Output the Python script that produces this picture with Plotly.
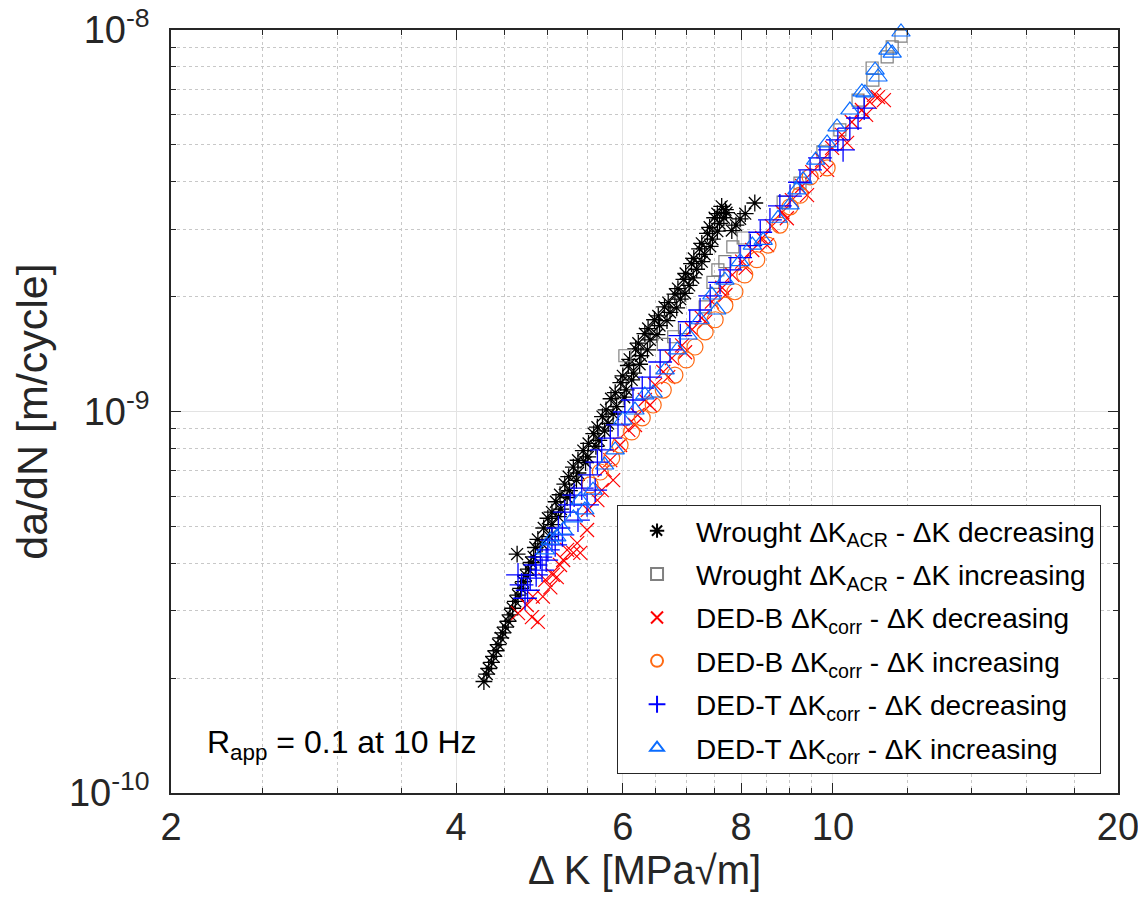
import plotly.graph_objects as go

# Wrought, delta-K_ACR, delta-K decreasing (black asterisks)
dk_wd = [4.28, 4.31, 4.33, 4.36, 4.38, 4.41, 4.43, 4.46, 4.48, 4.51, 4.54, 4.56, 4.59, 4.62,
         4.65, 4.68, 4.71, 4.74, 4.77, 4.80, 4.83, 4.64, 4.85, 4.93, 4.88,
         4.95, 5.05, 5.00, 5.05, 5.16, 5.10, 5.15, 5.27, 5.21, 5.26, 5.38, 5.32,
         5.38, 5.51, 5.45, 5.52, 5.66, 5.59, 5.64, 5.79, 5.71, 5.76, 5.91, 5.83,
         5.89, 6.05, 5.97, 6.00, 6.16, 6.08, 6.10, 6.27, 6.19, 6.23, 6.41, 6.33,
         6.38, 6.56, 6.48, 6.54, 6.73, 6.64, 6.70, 6.90, 6.81, 6.86, 7.05, 6.96,
         6.99, 7.18, 7.09, 7.13, 7.32, 7.23, 7.27, 7.46, 7.37, 7.41, 7.59, 7.50,
         7.55, 7.70, 7.63, 7.82, 7.90, 7.98, 8.08, 8.27,
         5.02, 5.13, 5.24, 5.36, 5.48, 5.62, 5.74, 5.86, 6.02, 6.13, 6.25, 6.37, 6.52,
         6.68, 6.84, 6.98, 7.12, 7.27, 7.42, 7.55, 7.67, 7.72]
dadn_wd = [1.96e-10, 2.05e-10, 2.12e-10, 2.20e-10, 2.28e-10, 2.36e-10, 2.45e-10, 2.55e-10,
           2.63e-10, 2.72e-10, 2.82e-10, 2.93e-10, 3.05e-10, 3.18e-10, 3.30e-10, 3.44e-10,
           3.58e-10, 3.72e-10, 3.86e-10, 4.02e-10, 4.16e-10, 4.23e-10, 4.40e-10, 4.50e-10, 4.62e-10,
           4.95e-10, 5.05e-10, 5.25e-10, 5.45e-10, 5.55e-10, 5.80e-10, 6.05e-10, 6.20e-10, 6.45e-10,
           6.75e-10, 6.90e-10, 7.15e-10, 7.45e-10, 7.60e-10, 7.90e-10, 8.25e-10, 8.40e-10, 8.75e-10,
           9.10e-10, 9.30e-10, 9.70e-10, 1.01e-9, 1.03e-9, 1.08e-9, 1.12e-9, 1.14e-9, 1.19e-9,
           1.24e-9, 1.26e-9, 1.32e-9, 1.37e-9, 1.40e-9, 1.46e-9, 1.51e-9, 1.54e-9, 1.60e-9,
           1.65e-9, 1.68e-9, 1.74e-9, 1.78e-9, 1.82e-9, 1.88e-9, 1.93e-9, 1.97e-9, 2.03e-9,
           2.10e-9, 2.14e-9, 2.22e-9, 2.30e-9, 2.36e-9, 2.44e-9, 2.52e-9, 2.58e-9, 2.67e-9,
           2.76e-9, 2.83e-9, 2.93e-9, 3.04e-9, 3.11e-9, 3.22e-9, 3.30e-9, 3.38e-9, 3.45e-9,
           2.98e-9, 3.08e-9, 3.20e-9, 3.30e-9, 3.52e-9,
           4.70e-10, 5.30e-10, 5.95e-10, 6.60e-10, 7.35e-10, 8.10e-10, 8.90e-10, 9.85e-10,
           1.09e-9, 1.21e-9, 1.33e-9, 1.45e-9, 1.59e-9, 1.73e-9, 1.87e-9, 2.04e-9, 2.24e-9,
           2.47e-9, 2.71e-9, 2.97e-9, 3.22e-9, 3.32e-9]

# Wrought, delta-K_ACR, delta-K increasing (grey squares)
dk_wi = [6.03, 6.62, 6.79, 6.97, 7.33, 7.47, 7.56, 7.69, 7.84, 8.04, 8.86, 9.23, 9.76,
         10.17, 10.63, 11.02, 11.00, 11.41, 11.55, 11.80]
dadn_wi = [1.40e-9, 1.50e-9, 1.57e-9, 1.66e-9, 1.88e-9, 2.18e-9, 2.35e-9, 2.47e-9, 2.70e-9,
           2.85e-9, 3.54e-9, 3.97e-9, 4.79e-9, 5.47e-9, 6.55e-9, 7.39e-9, 7.95e-9, 8.50e-9,
           9.03e-9, 9.64e-9]

# DED-B, delta-K_corr, delta-K decreasing (red x)
dk_bd = [4.65, 4.81, 4.88, 4.75, 4.82, 4.94, 5.03, 4.97, 5.11, 5.06, 5.15, 5.19, 5.24, 5.32,
         5.41, 5.37, 5.50, 5.51, 5.64, 5.70, 5.86, 5.74, 5.82, 5.96, 6.08, 6.18, 6.22, 6.33,
         6.41, 6.49, 6.62, 6.70, 6.76, 6.93, 6.98, 7.10, 7.27, 7.33, 7.45, 7.64, 7.70, 7.83,
         8.02, 8.09, 8.22, 8.42, 8.52, 8.62, 8.84, 8.94, 9.05, 9.28, 9.39, 9.51, 9.74, 9.86,
         9.98, 10.22, 10.35, 10.47, 10.73, 10.84, 10.94, 11.05, 11.16, 11.32]
dadn_bd = [2.96e-10, 2.89e-10, 2.81e-10, 3.11e-10, 3.27e-10, 3.27e-10, 3.46e-10, 3.62e-10,
           3.68e-10, 3.73e-10, 3.96e-10, 4.08e-10, 4.34e-10, 4.26e-10, 4.26e-10, 4.52e-10,
           4.89e-10, 5.52e-10, 5.86e-10, 6.22e-10, 6.61e-10, 7.02e-10, 7.46e-10, 8.17e-10,
           8.95e-10, 9.22e-10, 9.79e-10, 1.072e-9, 1.04e-9, 1.174e-9, 1.27e-9, 1.23e-9,
           1.38e-9, 1.49e-9, 1.43e-9, 1.64e-9, 1.76e-9, 1.72e-9, 1.94e-9, 2.11e-9, 2.02e-9,
           2.28e-9, 2.47e-9, 2.38e-9, 2.65e-9, 2.85e-9, 2.73e-9, 3.06e-9, 3.33e-9, 3.21e-9,
           3.58e-9, 3.90e-9, 3.69e-9, 4.24e-9, 4.56e-9, 4.30e-9, 4.91e-9, 5.31e-9, 5.06e-9,
           5.74e-9, 6.17e-9, 5.99e-9, 6.48e-9, 6.76e-9, 6.67e-9, 6.55e-9]

# DED-B, delta-K_corr, delta-K increasing (orange circles)
dk_bi = [5.54, 5.68, 5.84, 5.96, 6.13, 6.29, 6.46, 6.62, 6.81, 7.00, 7.15, 7.33, 7.51, 7.69,
         7.88, 8.07, 8.31, 8.54, 8.79, 9.01, 9.23, 9.46, 9.86]
dadn_bi = [6.42e-10, 6.94e-10, 7.55e-10, 8.17e-10, 8.84e-10, 9.62e-10, 1.04e-9, 1.138e-9,
           1.246e-9, 1.365e-9, 1.476e-9, 1.617e-9, 1.74e-9, 1.90e-9, 2.06e-9, 2.28e-9,
           2.50e-9, 2.73e-9, 3.08e-9, 3.44e-9, 3.69e-9, 4.12e-9, 4.35e-9]

# DED-T, delta-K_corr, delta-K decreasing (blue plus)
dk_td = [4.65, 4.73, 4.69, 4.79, 4.85, 4.93, 4.91, 5.00, 5.05, 5.13, 5.21, 5.28, 5.33, 5.43,
         5.54, 5.64, 5.70, 5.82, 5.93, 6.03, 6.15, 6.29, 6.41, 6.57, 6.73, 6.90, 7.06, 7.24,
         7.42, 7.60, 7.79, 7.98, 8.18, 8.38, 8.58, 8.79, 9.01, 9.23, 9.46, 9.69, 9.93, 10.25,
         10.12, 10.42, 10.63, 10.79, 4.76, 4.86, 4.98, 5.09, 5.18, 5.38, 5.50, 5.61]
dadn_td = [3.73e-10, 3.24e-10, 3.51e-10, 3.66e-10, 3.96e-10, 3.84e-10, 4.15e-10, 4.34e-10,
           4.60e-10, 4.95e-10, 5.45e-10, 5.69e-10, 6.04e-10, 6.30e-10, 6.82e-10, 7.37e-10,
           7.93e-10, 8.52e-10, 9.22e-10, 9.97e-10, 1.072e-9, 1.152e-9, 1.23e-9, 1.348e-9,
           1.45e-9, 1.58e-9, 1.72e-9, 1.845e-9, 2.01e-9, 2.18e-9, 2.35e-9, 2.53e-9, 2.72e-9,
           2.95e-9, 3.18e-9, 3.46e-9, 3.67e-9, 3.99e-9, 4.30e-9, 4.62e-9, 4.85e-9, 4.85e-9,
           5.15e-9, 5.53e-9, 5.88e-9, 6.24e-9, 3.40e-10, 3.73e-10, 4.08e-10, 4.47e-10,
           4.75e-10, 5.19e-10, 5.69e-10, 6.22e-10]

# DED-T, delta-K_corr, delta-K increasing (light blue triangles)
dk_ti = [4.97, 5.03, 5.11, 5.19, 5.32, 5.41, 5.47, 5.58, 5.74, 5.89, 6.00, 6.18, 6.33, 6.46,
         6.65, 6.85, 7.03, 7.24, 7.54, 7.45, 7.69, 7.98, 8.22, 8.44, 8.75, 9.01, 9.16, 9.30,
         9.59, 9.86, 10.10, 10.42, 10.73, 10.81, 11.08, 11.16, 11.43, 11.55, 11.80]
dadn_ti = [4.34e-10, 4.60e-10, 4.69e-10, 4.89e-10, 5.26e-10, 5.86e-10, 5.52e-10, 6.22e-10,
           7.24e-10, 7.93e-10, 9.50e-10, 1.009e-9, 1.105e-9, 1.118e-9, 1.285e-9, 1.45e-9,
           1.587e-9, 1.74e-9, 1.845e-9, 2.02e-9, 2.21e-9, 2.47e-9, 2.73e-9, 2.81e-9, 3.21e-9,
           3.48e-9, 3.81e-9, 4.05e-9, 4.56e-9, 5.06e-9, 5.57e-9, 6.17e-9, 6.88e-9, 6.84e-9,
           7.85e-9, 7.53e-9, 8.86e-9, 8.70e-9, 9.88e-9]

x_ticks = [2, 4, 6, 8, 10, 20]
x_minor = [2.5, 3, 3.5, 4.5, 5, 5.5, 6.5, 7, 7.5, 8.5, 9, 9.5, 12, 14, 16, 18]
y_ticks = [1e-10, 1e-9, 1e-8]
y_ticktext = ['10<sup>-10</sup>', '10<sup>-9</sup>', '10<sup>-8</sup>']
y_minor = [k * 1e-10 for k in range(2, 10)] + [k * 1e-9 for k in range(2, 10)]

series = [
    (dk_wd, dadn_wd, 'Wrought ΔK<sub>ACR</sub> - ΔK decreasing', 'asterisk-open', 'black', 14, 1.3),
    (dk_wi, dadn_wi, 'Wrought ΔK<sub>ACR</sub> - ΔK increasing', 'square-open', '#808080', 12, 1.2),
    (dk_bd, dadn_bd, 'DED-B ΔK<sub>corr</sub> - ΔK decreasing', 'x-thin-open', '#ff0000', 14, 1.2),
    (dk_bi, dadn_bi, 'DED-B ΔK<sub>corr</sub> - ΔK increasing', 'circle-open', '#ff6a13', 16, 1.2),
    (dk_td, dadn_td, 'DED-T ΔK<sub>corr</sub> - ΔK decreasing', 'cross-thin-open', '#0000ff', 17, 1.3),
    (dk_ti, dadn_ti, 'DED-T ΔK<sub>corr</sub> - ΔK increasing', 'triangle-up-open', '#0a6cff', 16, 1.2),
]

FONT = 'Liberation Sans, Arial, Helvetica, sans-serif'
AX = '#262626'

fig = go.Figure()
for i, (xs, ys, name, sym, col, size, lw) in enumerate(series):
    fig.add_trace(go.Scatter(
        x=xs, y=ys, mode='markers', name=name, legendgroup=str(i),
        cliponaxis=False,
        marker=dict(symbol=sym, size=size, color=col, line=dict(color=col, width=lw)),
    ))

fig.add_annotation(
    x=0.18, y=0.063, xref='paper', yref='paper', showarrow=False,
    text='R<sub>app</sub> = 0.1 at 10 Hz', font=dict(size=32, color='black', family=FONT),
    xanchor='center', yanchor='middle',
)
# x axis title, placed by hand to sit as close to the tick labels as in the original
fig.add_annotation(
    x=0.5, y=-0.101, xref='paper', yref='paper', showarrow=False,
    text='Δ K [MPa√m]', font=dict(size=40, color=AX, family=FONT),
    xanchor='center', yanchor='middle',
)

fig.update_xaxes(
    type='log', range=[0.30103, 1.30103],
    tickmode='array', tickvals=x_ticks, ticktext=[str(v) for v in x_ticks],
    tickfont=dict(size=38, color=AX, family=FONT),
    ticks='inside', ticklen=10, tickcolor=AX, tickwidth=1,
    showline=True, linecolor=AX, linewidth=1.5, mirror='allticks',
    showgrid=True, gridcolor='#e3e3e3', gridwidth=1,
    minor=dict(tickmode='array', tickvals=x_minor, ticks='inside', ticklen=5,
               tickcolor=AX, showgrid=True, gridcolor='#c8c8c8', griddash='dot'),
    ticklabelstandoff=0, ticklabeloverflow='allow', zeroline=False,
)
fig.update_yaxes(
    type='log', range=[-10, -8],
    tickmode='array', tickvals=y_ticks, ticktext=y_ticktext,
    tickfont=dict(size=38, color=AX, family=FONT),
    ticks='inside', ticklen=10, tickcolor=AX, tickwidth=1,
    showline=True, linecolor=AX, linewidth=1.5, mirror='allticks',
    showgrid=True, gridcolor='#e3e3e3', gridwidth=1,
    minor=dict(tickmode='array', tickvals=y_minor, ticks='inside', ticklen=5,
               tickcolor=AX, showgrid=True, gridcolor='#c8c8c8', griddash='dot'),
    title=dict(text='da/dN [m/cycle]', font=dict(size=43, color=AX, family=FONT), standoff=19),
    ticklabelstandoff=12, ticklabeloverflow='allow', zeroline=False,
)

# the page has an 8px body margin, so the figure is 8px smaller than the window
fig.update_layout(
    width=1138, height=901,
    margin=dict(l=163, r=28, t=22, b=116, autoexpand=False),
    plot_bgcolor='white', paper_bgcolor='white',
    font=dict(family=FONT, color='black'),
    legend=dict(
        x=0.471, y=0.3775, xanchor='left', yanchor='top',
        bgcolor='white', bordercolor=AX, borderwidth=1,
        font=dict(size=28, color='black', family=FONT),
        tracegroupgap=4, itemsizing='constant', itemwidth=68,
    ),
)

fig.write_html('out.html')
